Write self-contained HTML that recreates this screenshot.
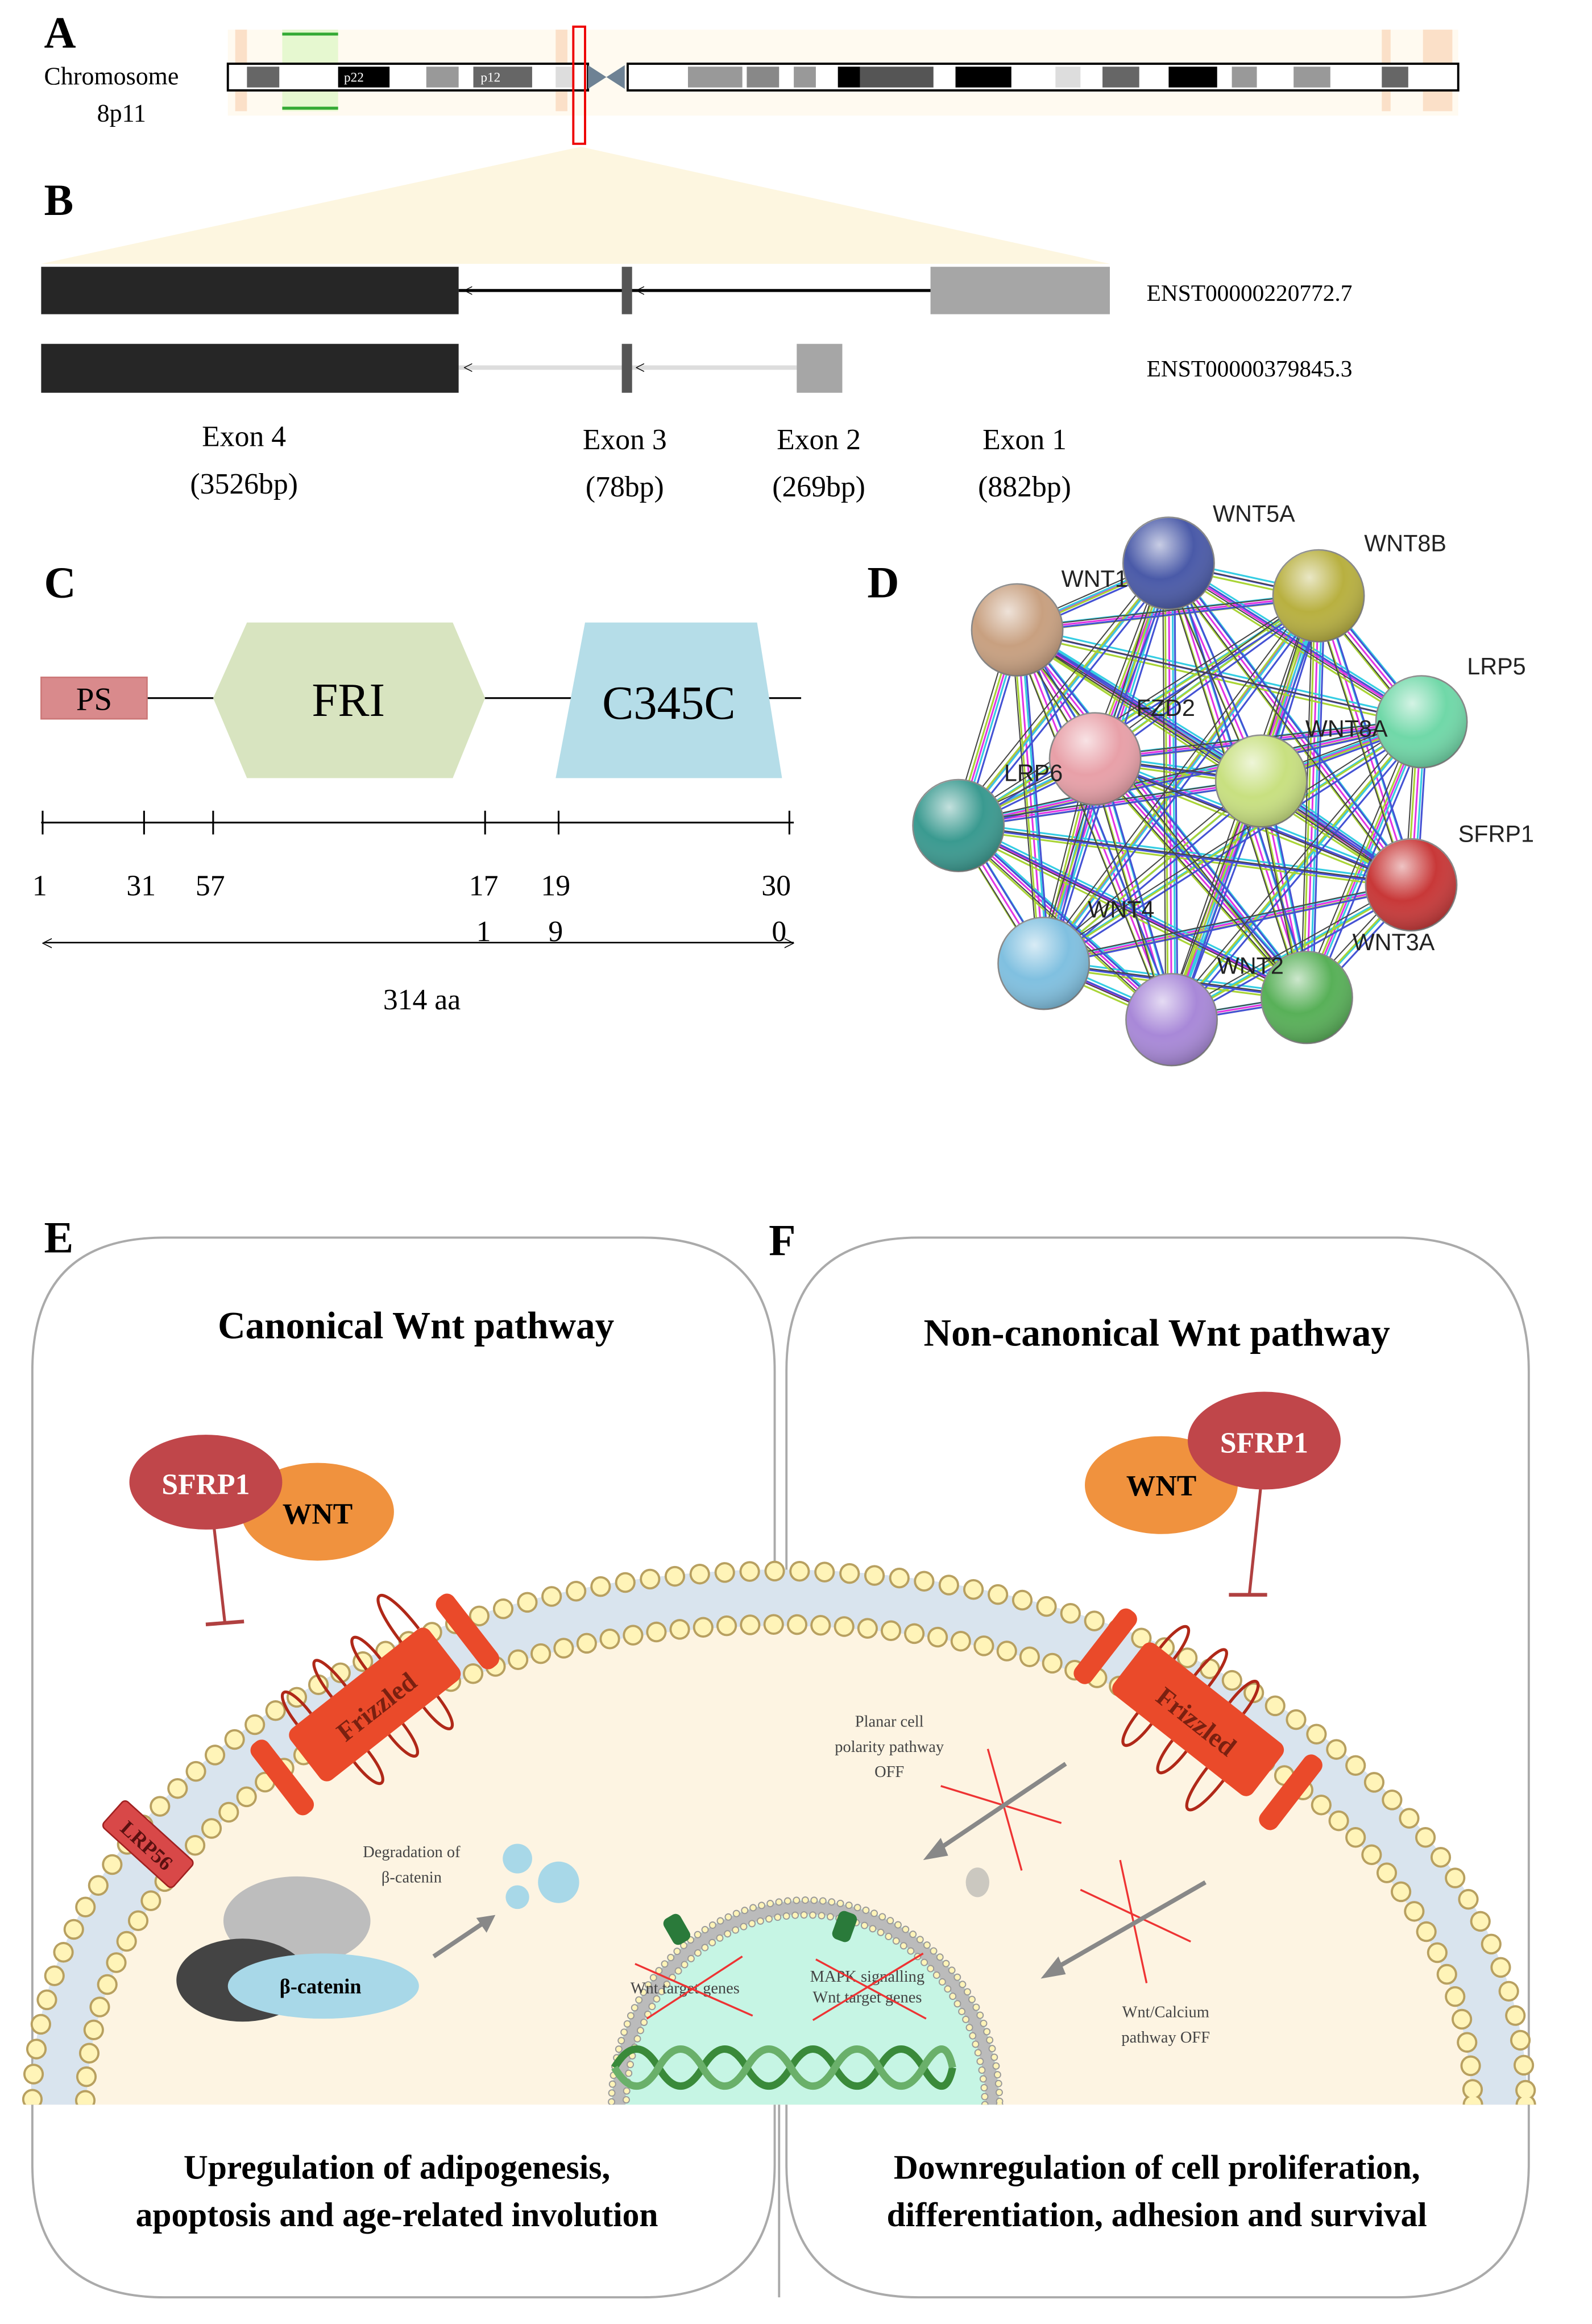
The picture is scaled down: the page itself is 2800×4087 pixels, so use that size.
<!DOCTYPE html>
<html><head><meta charset="utf-8"><style>html,body{margin:0;padding:0;background:#fff;width:2800px;height:4087px;overflow:hidden}svg{display:block}</style></head>
<body>
<svg width="2800" height="4087" viewBox="0 0 1083 1568" preserveAspectRatio="none" xmlns="http://www.w3.org/2000/svg" font-family="Liberation Serif, serif">
<defs>
<radialGradient id="gl" cx="0.4" cy="0.3" r="0.75"><stop offset="0" stop-color="#fff" stop-opacity="0.7"/><stop offset="0.5" stop-color="#fff" stop-opacity="0"/><stop offset="1" stop-color="#000" stop-opacity="0.25"/></radialGradient>
<path id="ed" d="M795 380L897 402M795 380L692 425M795 380L967 487M795 380L745 512M795 380L858 527M795 380L652 557M795 380L960 597M795 380L710 650M795 380L889 673M795 380L797 688M897 402L692 425M897 402L967 487M897 402L745 512M897 402L858 527M897 402L652 557M897 402L960 597M897 402L710 650M897 402L889 673M897 402L797 688M692 425L967 487M692 425L745 512M692 425L858 527M692 425L652 557M692 425L960 597M692 425L710 650M692 425L889 673M692 425L797 688M967 487L745 512M967 487L858 527M967 487L652 557M967 487L960 597M967 487L710 650M967 487L889 673M967 487L797 688M745 512L858 527M745 512L652 557M745 512L960 597M745 512L710 650M745 512L889 673M745 512L797 688M858 527L652 557M858 527L960 597M858 527L710 650M858 527L889 673M858 527L797 688M652 557L960 597M652 557L710 650M652 557L889 673M652 557L797 688M960 597L710 650M960 597L889 673M960 597L797 688M710 650L889 673M710 650L797 688M889 673L797 688" fill="none"/>
</defs>
<!-- A -->
<text x="30" y="32" font-size="30" font-weight="bold">A</text>
<text x="30" y="57" font-size="17">Chromosome</text>
<text x="66" y="82" font-size="17">8p11</text>
<rect x="155" y="20" width="837" height="58" fill="#fffaf0"/>
<rect x="192" y="20" width="38" height="55" fill="#e6f8d0"/>
<rect x="160" y="20" width="8" height="55" fill="#fbe0c8"/>
<rect x="378" y="20" width="8" height="55" fill="#fbe0c8"/>
<rect x="968" y="20" width="20" height="55" fill="#fbe0c8"/>
<rect x="940" y="20" width="6" height="55" fill="#fbe0c8"/>
<rect x="155" y="43" width="245" height="18" fill="#fff" stroke="#000" stroke-width="1.5"/>
<rect x="427" y="43" width="565" height="18" fill="#fff" stroke="#000" stroke-width="1.5"/>
<path d="M400 44 L425 60 L425 44 L400 60Z" fill="#6e8294"/>
<g>
<rect x="168" y="45" width="22" height="14" fill="#666"/>
<rect x="230" y="45" width="35" height="14" fill="#000"/><text x="234" y="55" font-size="9" fill="#fff">p22</text>
<rect x="290" y="45" width="22" height="14" fill="#999"/>
<rect x="322" y="45" width="40" height="14" fill="#666"/><text x="327" y="55" font-size="9" fill="#fff">p12</text>
<rect x="378" y="45" width="12" height="14" fill="#ddd"/>
<rect x="468" y="45" width="37" height="14" fill="#999"/>
<rect x="508" y="45" width="22" height="14" fill="#888"/>
<rect x="540" y="45" width="15" height="14" fill="#999"/>
<rect x="570" y="45" width="15" height="14" fill="#000"/>
<rect x="585" y="45" width="50" height="14" fill="#555"/>
<rect x="650" y="45" width="38" height="14" fill="#000"/>
<rect x="718" y="45" width="17" height="14" fill="#ddd"/>
<rect x="750" y="45" width="25" height="14" fill="#666"/>
<rect x="795" y="45" width="33" height="14" fill="#000"/>
<rect x="838" y="45" width="17" height="14" fill="#999"/>
<rect x="880" y="45" width="25" height="14" fill="#999"/>
<rect x="940" y="45" width="18" height="14" fill="#666"/>
</g>
<line x1="192" y1="23" x2="230" y2="23" stroke="#3a3" stroke-width="2"/>
<line x1="192" y1="73" x2="230" y2="73" stroke="#3a3" stroke-width="2"/>
<rect x="390" y="18" width="8" height="79" fill="none" stroke="#e00" stroke-width="1.5"/>
<!-- B -->
<polygon points="395,99 28,178 755,178" fill="#fdf6e0"/>
<text x="30" y="145" font-size="30" font-weight="bold">B</text>
<line x1="312" y1="196" x2="633" y2="196" stroke="#000" stroke-width="2"/>
<rect x="28" y="180" width="284" height="32" fill="#262626"/>
<rect x="423" y="180" width="7" height="32" fill="#555"/>
<rect x="633" y="180" width="122" height="32" fill="#a6a6a6"/>
<text x="315" y="200" font-size="12">&lt;</text><text x="432" y="200" font-size="12">&lt;</text>
<line x1="312" y1="248" x2="542" y2="248" stroke="#ddd" stroke-width="3"/>
<rect x="28" y="232" width="284" height="33" fill="#262626"/>
<rect x="423" y="232" width="7" height="33" fill="#555"/>
<rect x="542" y="232" width="31" height="33" fill="#a6a6a6"/>
<text x="315" y="252" font-size="12">&lt;</text><text x="432" y="252" font-size="12">&lt;</text>
<text x="780" y="203" font-size="16">ENST00000220772.7</text>
<text x="780" y="254" font-size="16">ENST00000379845.3</text>
<g font-size="20" text-anchor="middle">
<text x="166" y="301">Exon 4</text><text x="166" y="333">(3526bp)</text>
<text x="425" y="303">Exon 3</text><text x="425" y="335">(78bp)</text>
<text x="557" y="303">Exon 2</text><text x="557" y="335">(269bp)</text>
<text x="697" y="303">Exon 1</text><text x="697" y="335">(882bp)</text>
</g>
<!-- C -->
<text x="30" y="403" font-size="30" font-weight="bold">C</text>
<line x1="100" y1="471" x2="545" y2="471" stroke="#000" stroke-width="1.2"/>
<rect x="28" y="457" width="72" height="28" fill="#d98a8c" stroke="#c77" />
<text x="64" y="479" font-size="22" text-anchor="middle">PS</text>
<polygon points="145,471 168,420 308,420 330,471 308,525 168,525" fill="#d8e4c0"/>
<text x="237" y="483" font-size="32" text-anchor="middle">FRI</text>
<polygon points="398,420 515,420 532,525 378,525" fill="#b5dde8"/>
<text x="455" y="485" font-size="32" text-anchor="middle">C345C</text>
<line x1="28" y1="555" x2="540" y2="555" stroke="#000" stroke-width="1.2"/>
<g stroke="#000" stroke-width="1.2"><line x1="29" y1="547" x2="29" y2="563"/><line x1="98" y1="547" x2="98" y2="563"/><line x1="145" y1="547" x2="145" y2="563"/><line x1="330" y1="547" x2="330" y2="563"/><line x1="380" y1="547" x2="380" y2="563"/><line x1="537" y1="547" x2="537" y2="563"/></g>
<g font-size="20"><text x="22" y="604">1</text><text x="86" y="604">31</text><text x="133" y="604">57</text><text x="319" y="604">17</text><text x="368" y="604">19</text><text x="518" y="604">30</text>
<text x="324" y="635">1</text><text x="373" y="635">9</text><text x="525" y="635">0</text></g>
<line x1="30" y1="636" x2="540" y2="636" stroke="#000" stroke-width="1"/>
<text x="28" y="641" font-size="14">&lt;</text><text x="533" y="641" font-size="14">&gt;</text>
<text x="287" y="681" font-size="20" text-anchor="middle">314 aa</text>
<!-- D -->
<text x="590" y="403" font-size="30" font-weight="bold">D</text>
<g stroke-width="1.2" opacity="0.9">
<use href="#ed" stroke="#e020e0"/>
<use href="#ed" stroke="#20c8e0" transform="translate(2.5,-2)"/>
<use href="#ed" stroke="#a0d020" transform="translate(-2.5,2)"/>
<use href="#ed" stroke="#3040d0" transform="translate(4,1)"/>
<use href="#ed" stroke="#333" stroke-width="0.8" transform="translate(-4,-1)"/>
</g>
<g stroke="#888">
<circle cx="795" cy="380" r="31" fill="#4a5aa8"/><circle cx="897" cy="402" r="31" fill="#b8b040"/><circle cx="692" cy="425" r="31" fill="#c8a080"/>
<circle cx="967" cy="487" r="31" fill="#70d8a8"/><circle cx="745" cy="512" r="31" fill="#e8a0a8"/><circle cx="858" cy="527" r="31" fill="#c8e080"/>
<circle cx="652" cy="557" r="31" fill="#3a9a90"/><circle cx="960" cy="597" r="31" fill="#c83838"/><circle cx="710" cy="650" r="31" fill="#80c0e0"/>
<circle cx="889" cy="673" r="31" fill="#58b058"/><circle cx="797" cy="688" r="31" fill="#a888d8"/>
</g>
<g fill="url(#gl)">
<circle cx="795" cy="380" r="31"/><circle cx="897" cy="402" r="31"/><circle cx="692" cy="425" r="31"/>
<circle cx="967" cy="487" r="31"/><circle cx="745" cy="512" r="31"/><circle cx="858" cy="527" r="31"/>
<circle cx="652" cy="557" r="31"/><circle cx="960" cy="597" r="31"/><circle cx="710" cy="650" r="31"/>
<circle cx="889" cy="673" r="31"/><circle cx="797" cy="688" r="31"/>
</g>
<g font-family="Liberation Sans, sans-serif" font-size="16" fill="#222">
<text x="825" y="352">WNT5A</text><text x="928" y="372">WNT8B</text><text x="722" y="396">WNT1</text>
<text x="998" y="455">LRP5</text><text x="773" y="483">FZD2</text><text x="888" y="497">WNT8A</text>
<text x="683" y="527">LRP6</text><text x="992" y="568">SFRP1</text><text x="740" y="619">WNT4</text>
<text x="920" y="641">WNT3A</text><text x="828" y="657">WNT2</text></g>
<!-- E/F boxes -->
<path d="M112 835 H437 Q527 835 527 925 V1460 Q527 1550 437 1550 H112 Q22 1550 22 1460 V925 Q22 835 112 835Z" fill="#fff" stroke="#aaa" stroke-width="1.5"/>
<path d="M625 835 H950 Q1040 835 1040 925 V1460 Q1040 1550 950 1550 H625 Q535 1550 535 1460 V925 Q535 835 625 835Z" fill="#fff" stroke="#aaa" stroke-width="1.5"/>
<text x="30" y="845" font-size="30" font-weight="bold">E</text>
<text x="523" y="847" font-size="30" font-weight="bold">F</text>
<text x="283" y="903" font-size="26" font-weight="bold" text-anchor="middle">Canonical Wnt pathway</text>
<text x="787" y="908" font-size="26" font-weight="bold" text-anchor="middle">Non-canonical Wnt pathway</text>
<!-- cell -->
<clipPath id="cl"><rect x="0" y="0" width="1083" height="1420"/></clipPath>
<g clip-path="url(#cl)">
<ellipse cx="530" cy="1420" rx="508" ry="360" fill="#fdf4e2"/>
<ellipse cx="530" cy="1420" rx="490" ry="342" fill="none" stroke="#d9e4ee" stroke-width="38"/>
<ellipse cx="530" cy="1420" rx="508" ry="360" fill="none" stroke="#b8a060" stroke-width="14" stroke-dasharray="0 17" stroke-linecap="round"/>
<ellipse cx="530" cy="1420" rx="508" ry="360" fill="none" stroke="#fff4b8" stroke-width="11" stroke-dasharray="0 17" stroke-linecap="round"/>
<ellipse cx="530" cy="1420" rx="472" ry="324" fill="none" stroke="#b8a060" stroke-width="14" stroke-dasharray="0 16" stroke-linecap="round"/>
<ellipse cx="530" cy="1420" rx="472" ry="324" fill="none" stroke="#fff4b8" stroke-width="11" stroke-dasharray="0 16" stroke-linecap="round"/>
<ellipse cx="548" cy="1420" rx="132" ry="138" fill="#c6f5e4"/>
<ellipse cx="548" cy="1420" rx="127" ry="133" fill="none" stroke="#bbb" stroke-width="9"/>
<ellipse cx="548" cy="1420" rx="132" ry="138" fill="none" stroke="#999" stroke-width="5" stroke-dasharray="0 6" stroke-linecap="round"/>
<ellipse cx="548" cy="1420" rx="132" ry="138" fill="none" stroke="#fff4b8" stroke-width="3.5" stroke-dasharray="0 6" stroke-linecap="round"/>
<ellipse cx="548" cy="1420" rx="122" ry="128" fill="none" stroke="#999" stroke-width="5" stroke-dasharray="0 6" stroke-linecap="round"/>
<ellipse cx="548" cy="1420" rx="122" ry="128" fill="none" stroke="#fff4b8" stroke-width="3.5" stroke-dasharray="0 6" stroke-linecap="round"/>
</g>
<rect x="454" y="1292" width="13" height="20" rx="4" fill="#2a7a3a" transform="rotate(-30 460 1302)"/>
<rect x="568" y="1290" width="13" height="20" rx="4" fill="#2a7a3a" transform="rotate(20 575 1300)"/>
<path d="M418 1395 q15 -25 30 0 t30 0 t30 0 t30 0 t30 0 t30 0 t30 0 t20 0" fill="none" stroke="#3a8a3a" stroke-width="5"/>
<path d="M418 1395 q15 25 30 0 t30 0 t30 0 t30 0 t30 0 t30 0 t30 0 t20 0" fill="none" stroke="#6ab06a" stroke-width="5"/>
<g font-size="11" fill="#444" text-anchor="middle">
<text x="466" y="1345">Wnt target genes</text>
<text x="590" y="1337">MAPK signalling</text><text x="590" y="1351">Wnt target genes</text>
<text x="280" y="1253">Degradation of</text><text x="280" y="1270">β-catenin</text>
<text x="605" y="1165">Planar cell</text><text x="605" y="1182">polarity pathway</text><text x="605" y="1199">OFF</text>
<text x="793" y="1361">Wnt/Calcium</text><text x="793" y="1378">pathway OFF</text></g>
<g stroke="#e33" stroke-width="1.3">
<line x1="432" y1="1325" x2="512" y2="1360"/><line x1="440" y1="1362" x2="505" y2="1320"/>
<line x1="553" y1="1363" x2="628" y2="1318"/><line x1="555" y1="1322" x2="630" y2="1362"/>
<line x1="640" y1="1205" x2="722" y2="1230"/><line x1="672" y1="1180" x2="695" y2="1262"/>
<line x1="735" y1="1275" x2="810" y2="1310"/><line x1="762" y1="1255" x2="780" y2="1338"/></g>
<g stroke="#888" stroke-width="3" fill="#888">
<line x1="725" y1="1190" x2="638" y2="1248"/><polygon points="628,1255 640,1240 645,1252" stroke="none"/>
<line x1="820" y1="1270" x2="718" y2="1328"/><polygon points="708,1335 720,1320 725,1332" stroke="none"/>
<line x1="295" y1="1320" x2="328" y2="1298"/><polygon points="337,1292 324,1294 331,1304" stroke="none"/></g>
<ellipse cx="665" cy="1270" rx="8" ry="10" fill="#aaa" opacity="0.6"/>
<circle cx="352" cy="1254" r="10" fill="#a8d8e8"/><circle cx="380" cy="1270" r="14" fill="#a8d8e8"/><circle cx="352" cy="1280" r="8" fill="#a8d8e8"/>
<ellipse cx="202" cy="1296" rx="50" ry="30" fill="#bdbdbd"/>
<ellipse cx="165" cy="1336" rx="45" ry="28" fill="#444"/>
<ellipse cx="220" cy="1340" rx="65" ry="22" fill="#a8d8e8"/>
<text x="218" y="1345" font-size="14" font-weight="bold" text-anchor="middle">β-catenin</text>
<!-- Frizzled -->
<g transform="rotate(-38 255 1150)">
<path d="M205 1128 c0 -30 12 -30 12 0 M235 1128 c0 -35 12 -35 12 0 M265 1128 c0 -30 12 -30 12 0 M295 1128 c0 -45 15 -45 15 0 M220 1172 c0 30 12 30 12 0 M250 1172 c0 30 12 30 12 0 M280 1172 c0 30 12 30 12 0" fill="none" stroke="#b02818" stroke-width="2"/>
<rect x="195" y="1128" width="120" height="44" rx="6" fill="#ea4a2a"/>
<rect x="168" y="1120" width="14" height="60" rx="6" fill="#ea4a2a"/><rect x="328" y="1120" width="14" height="60" rx="6" fill="#ea4a2a"/>
<text x="255" y="1158" font-size="18" font-weight="bold" fill="#7a2010" text-anchor="middle">Frizzled</text></g>
<g transform="rotate(38 815 1160)">
<path d="M765 1138 c0 -30 12 -30 12 0 M795 1138 c0 -35 12 -35 12 0 M825 1138 c0 -30 12 -30 12 0 M780 1182 c0 30 12 30 12 0 M810 1182 c0 30 12 30 12 0 M840 1182 c0 40 14 40 14 0" fill="none" stroke="#b02818" stroke-width="2"/>
<rect x="755" y="1138" width="120" height="44" rx="6" fill="#ea4a2a"/>
<rect x="728" y="1130" width="14" height="60" rx="6" fill="#ea4a2a"/><rect x="888" y="1130" width="14" height="60" rx="6" fill="#ea4a2a"/>
<text x="815" y="1168" font-size="18" font-weight="bold" fill="#7a2010" text-anchor="middle">Frizzled</text></g>
<g transform="rotate(42 100 1245)"><rect x="68" y="1232" width="64" height="24" rx="3" fill="#d84848" stroke="#a02020"/>
<text x="100" y="1250" font-size="14" font-weight="bold" fill="#5a1010" text-anchor="middle">LRP56</text></g>
<!-- SFRP1/WNT -->
<line x1="145" y1="1025" x2="153" y2="1095" stroke="#b04040" stroke-width="2"/><line x1="140" y1="1096" x2="166" y2="1094" stroke="#b04040" stroke-width="2.5"/>
<ellipse cx="216" cy="1020" rx="52" ry="33" fill="#f0923e"/>
<ellipse cx="140" cy="1000" rx="52" ry="32" fill="#c0464a"/>
<text x="140" y="1008" font-size="20" font-weight="bold" fill="#fff" text-anchor="middle">SFRP1</text>
<text x="216" y="1028" font-size="20" font-weight="bold" text-anchor="middle">WNT</text>
<line x1="858" y1="1000" x2="850" y2="1075" stroke="#b04040" stroke-width="2"/><line x1="836" y1="1076" x2="862" y2="1076" stroke="#b04040" stroke-width="2.5"/>
<ellipse cx="790" cy="1002" rx="52" ry="33" fill="#f0923e"/>
<ellipse cx="860" cy="972" rx="52" ry="33" fill="#c0464a"/>
<text x="790" y="1009" font-size="20" font-weight="bold" text-anchor="middle">WNT</text>
<text x="860" y="980" font-size="20" font-weight="bold" fill="#fff" text-anchor="middle">SFRP1</text>
<line x1="530" y1="1420" x2="530" y2="1550" stroke="#aaa" stroke-width="1.5"/>
<text x="270" y="1470" font-size="23" font-weight="bold" text-anchor="middle">Upregulation of adipogenesis,</text>
<text x="270" y="1502" font-size="23" font-weight="bold" text-anchor="middle">apoptosis and age-related involution</text>
<text x="787" y="1470" font-size="23" font-weight="bold" text-anchor="middle">Downregulation of cell proliferation,</text>
<text x="787" y="1502" font-size="23" font-weight="bold" text-anchor="middle">differentiation, adhesion and survival</text>
</svg>
</body></html>
